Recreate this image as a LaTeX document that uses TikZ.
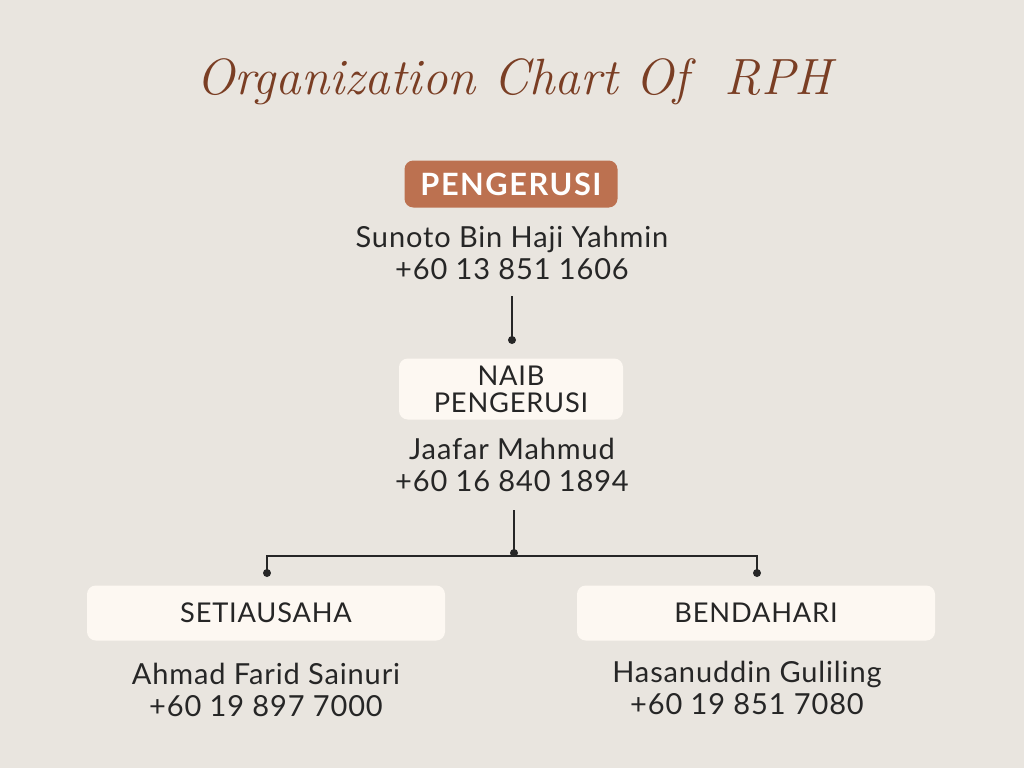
\documentclass[tikz,border=0pt]{standalone}
\usepackage{fontspec}
\setmainfont{Lato}[LetterSpace=3]
\newfontfamily\titlefont{Latin Modern Roman}
\definecolor{bgc}{HTML}{E9E5DF}
\definecolor{titlec}{HTML}{7A3E24}
\definecolor{headc}{HTML}{BC7150}
\definecolor{boxc}{HTML}{FDF8F2}
\definecolor{inkc}{HTML}{262626}
\tikzset{
  txt/.style={text=inkc, font=\fontsize{16.5}{18.5}\selectfont, align=center, inner sep=0pt},
  rolebox/.style={fill=boxc, rounded corners=5pt, text=inkc, font=\fontsize{15.5}{15.5}\selectfont, align=center, inner sep=0pt},
  conn/.style={draw=inkc, line width=1.3pt},
  dotc/.style={fill=inkc}
}
\begin{document}
\begin{tikzpicture}[x=0.02cm,y=-0.02cm]
\fill[bgc] (0,0) rectangle (1024,768);
\useasboundingbox (0,0) rectangle (1024,768);
\node[text=titlec, font=\titlefont\itshape\fontsize{29}{29}\selectfont] (title) at (514,82) {Organization Chart Of\ \ RPH};
% chairman
\node[fill=headc, rounded corners=5pt, minimum width=213*0.02cm, minimum height=47*0.02cm, text=white, font=\bfseries\fontsize{17.5}{17.5}\selectfont\addfontfeatures{LetterSpace=5}, inner sep=0pt] (pengerusi) at (511,184) {PENGERUSI};
\node[txt] (name1) at (512,253) {Sunoto Bin Haji Yahmin\\+60 13 851 1606};
% vice
\node[rolebox, minimum width=224*0.02cm, minimum height=61*0.02cm] (naib) at (511,389) {NAIB\\PENGERUSI};
\node[txt] (name2) at (512,465) {Jaafar Mahmud\\+60 16 840 1894};
% secretary & treasurer
\node[rolebox, minimum width=358*0.02cm, minimum height=55*0.02cm] (setia) at (266,613) {SETIAUSAHA};
\node[txt] (name3) at (266,690) {Ahmad Farid Sainuri\\+60 19 897 7000};
\node[rolebox, minimum width=358*0.02cm, minimum height=55*0.02cm] (benda) at (756,613) {BENDAHARI};
\node[txt] (name4) at (747,688) {Hasanuddin Guliling\\+60 19 851 7080};
% connectors
\coordinate (t1) at (512,296);
\coordinate (d1) at (512,340);
\coordinate (t2) at (514,510);
\coordinate (d2) at (514,553);
\coordinate (hl) at (267,556);
\coordinate (hr) at (757,556);
\coordinate (d3) at (267,573);
\coordinate (d4) at (757,573);
\draw[conn] (t1) -- (d1);
\fill[dotc] (d1) circle (4);
\draw[conn] (t2) -- (d2);
\fill[dotc] (d2) circle (4);
\draw[conn] (d3) -- (hl) -- (hr) -- (d4);
\fill[dotc] (d3) circle (4);
\fill[dotc] (d4) circle (4);
\end{tikzpicture}
\end{document}
